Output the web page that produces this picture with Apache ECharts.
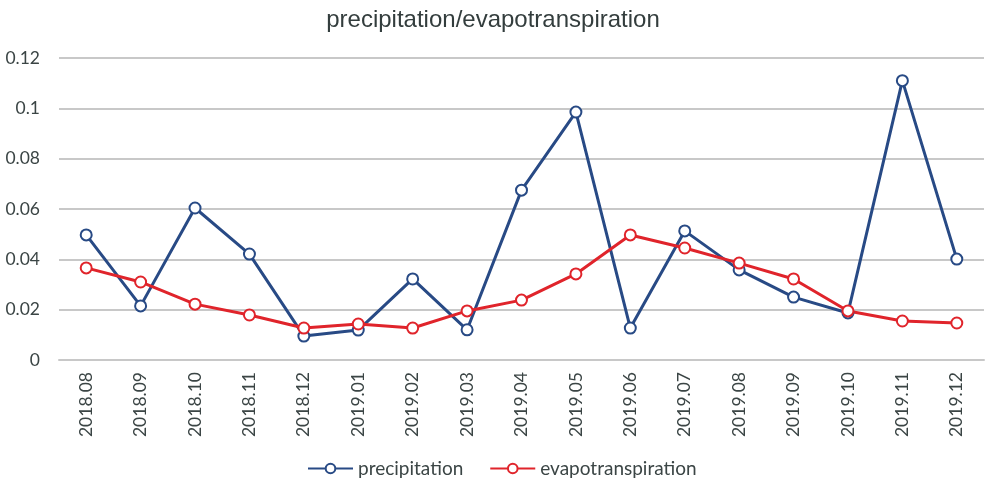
<!DOCTYPE html>
<html><head><meta charset="utf-8">
<script src="https://cdn.jsdelivr.net/npm/echarts@6/dist/echarts.min.js"></script>
<style>html,body{margin:0;padding:0;background:#fff}#c{width:986px;height:485px}</style>
</head><body><div id="c"></div>
<script>
var categories = ["2018.08","2018.09","2018.10","2018.11","2018.12","2019.01","2019.02","2019.03","2019.04","2019.05","2019.06","2019.07","2019.08","2019.09","2019.10","2019.11","2019.12"];
var precipitation = [0.0497,0.0215,0.0604,0.0421,0.0095,0.0119,0.0322,0.0120,0.0675,0.0985,0.0127,0.0513,0.0358,0.0250,0.0187,0.1110,0.0401];
var evapotranspiration = [0.0366,0.0310,0.0222,0.0179,0.0127,0.0143,0.0127,0.0195,0.0238,0.0342,0.0497,0.0445,0.0385,0.0322,0.0195,0.0155,0.0147];
var yTicks = [0, 0.02, 0.04, 0.06, 0.08, 0.1, 0.12];

var chart = echarts.init(document.getElementById('c'));
var font = 'Lato, "Open Sans", sans-serif';
function mk(name, data, color){
  return {name:name, type:'line', data:data, symbol:'emptyCircle', symbolSize:11,
    lineStyle:{color:color, width:3}, itemStyle:{color:color, borderColor:color, borderWidth:2.5},
    emphasis:{disabled:true}};
}
chart.setOption({
  animation:false,
  title:{text:'precipitation/evapotranspiration', left:'center', top:3,
    textStyle:{fontFamily:'"Liberation Sans", Arial, sans-serif', fontSize:24, fontWeight:'normal', color:'#333d3d'}},
  legend:{bottom:2, left:302, itemGap:26, itemWidth:45, itemHeight:12,
    textStyle:{fontFamily:font, fontSize:19, color:'#3b4545'},
    data:['precipitation','evapotranspiration']},
  grid:{left:59, right:2, top:58, bottom:125},
  xAxis:{type:'category', data:categories, boundaryGap:true,
    axisLine:{lineStyle:{color:'#c8c8c8', width:2}}, axisTick:{show:false},
    axisLabel:{rotate:90, fontFamily:font, fontSize:17.5, color:'#3b4545', margin:12}},
  yAxis:{type:'value', min:yTicks[0], max:yTicks[yTicks.length-1], interval:0.02,
    axisLine:{show:false}, axisTick:{show:false},
    splitLine:{lineStyle:{color:'#c8c8c8', width:2}},
    axisLabel:{fontFamily:font, fontSize:17.5, color:'#3b4545', margin:19,
      formatter:function(v){return String(Math.round(v*100)/100);}}},
  series:[mk('precipitation', precipitation, '#284a85'), mk('evapotranspiration', evapotranspiration, '#e0242b')]
});
</script></body></html>
